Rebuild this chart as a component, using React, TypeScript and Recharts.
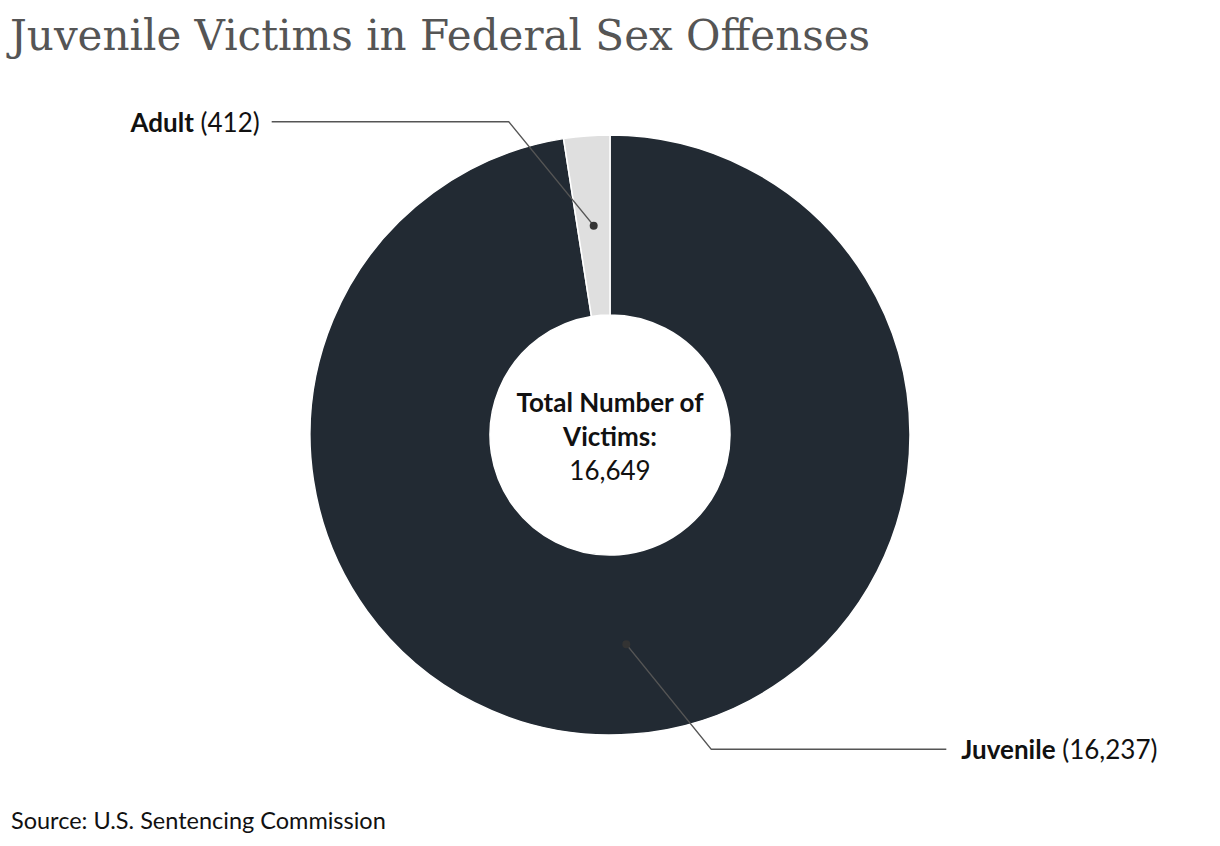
import React from 'react';
import { PieChart, Pie, Cell } from 'recharts';

const victimTypes = ['Juvenile', 'Adult'];
const victimCounts = [16237, 412];
const sliceColors = ['#222a33', '#dfdfdf'];
const totalLabel = '16,649';

const data = victimTypes.map((name, i) => ({ name, value: victimCounts[i] }));

const RADIAN = Math.PI / 180;

const renderLabel = (props: any) => {
  const { cx, cy, midAngle, innerRadius, outerRadius, name, value } = props;
  const r = (innerRadius + outerRadius) / 2;
  const px = cx + r * Math.cos(-midAngle * RADIAN);
  const py = cy + r * Math.sin(-midAngle * RADIAN);
  const up = py < cy;
  const left = px < cx;
  const ex = px + (left ? -85 : 85);
  const ey = py + (up ? -104 : 105);
  const hx = ex + (left ? -237 : 235);
  const tx = hx + (left ? -12 : 15);
  return (
    <g key={name}>
      <polyline
        points={`${px},${py} ${ex},${ey} ${hx},${ey}`}
        fill="none"
        stroke="#555"
        strokeWidth={1.5}
      />
      <circle cx={px} cy={py} r={4} fill="#333" />
      <text
        x={tx}
        y={ey}
        textAnchor={left ? 'end' : 'start'}
        dominantBaseline="central"
        fontFamily="Lato"
        fontSize={26}
        fill="#111"
      >
        <tspan fontWeight="bold">{name}</tspan>
        <tspan> ({value.toLocaleString('en-US')})</tspan>
      </text>
    </g>
  );
};

export default function App() {
  return (
    <div style={{ position: 'absolute', left: 0, top: 0, width: 1220, height: 846, background: '#fff' }}>
      <div
        style={{
          position: 'absolute',
          left: 10,
          top: 11,
          fontFamily: '"DejaVu Serif", serif',
          fontSize: 42,
          color: '#555',
          whiteSpace: 'nowrap',
        }}
      >
        Juvenile Victims in Federal Sex Offenses
      </div>
      <PieChart width={1220} height={846} style={{ position: 'absolute', left: 0, top: 0 }}>
        <Pie
          data={data}
          dataKey="value"
          nameKey="name"
          cx={605}
          cy={430}
          innerRadius={120}
          outerRadius={300}
          startAngle={90}
          endAngle={-270}
          stroke="#fff"
          strokeWidth={1.5}
          label={renderLabel}
          labelLine={false}
          isAnimationActive={false}
        >
          {data.map((d, i) => (
            <Cell key={d.name} fill={sliceColors[i]} />
          ))}
        </Pie>
      </PieChart>
      <div
        style={{
          position: 'absolute',
          left: 490,
          top: 385,
          width: 240,
          textAlign: 'center',
          fontFamily: 'Lato',
          fontSize: 26,
          lineHeight: '34px',
          color: '#111',
        }}
      >
        <div style={{ fontWeight: 'bold' }}>Total Number of</div>
        <div style={{ fontWeight: 'bold' }}>Victims:</div>
        <div>{totalLabel}</div>
      </div>
      <div
        style={{
          position: 'absolute',
          left: 11,
          top: 806,
          fontFamily: 'Lato',
          fontSize: 23.5,
          color: '#111',
          whiteSpace: 'nowrap',
        }}
      >
        Source: U.S. Sentencing Commission
      </div>
    </div>
  );
}
